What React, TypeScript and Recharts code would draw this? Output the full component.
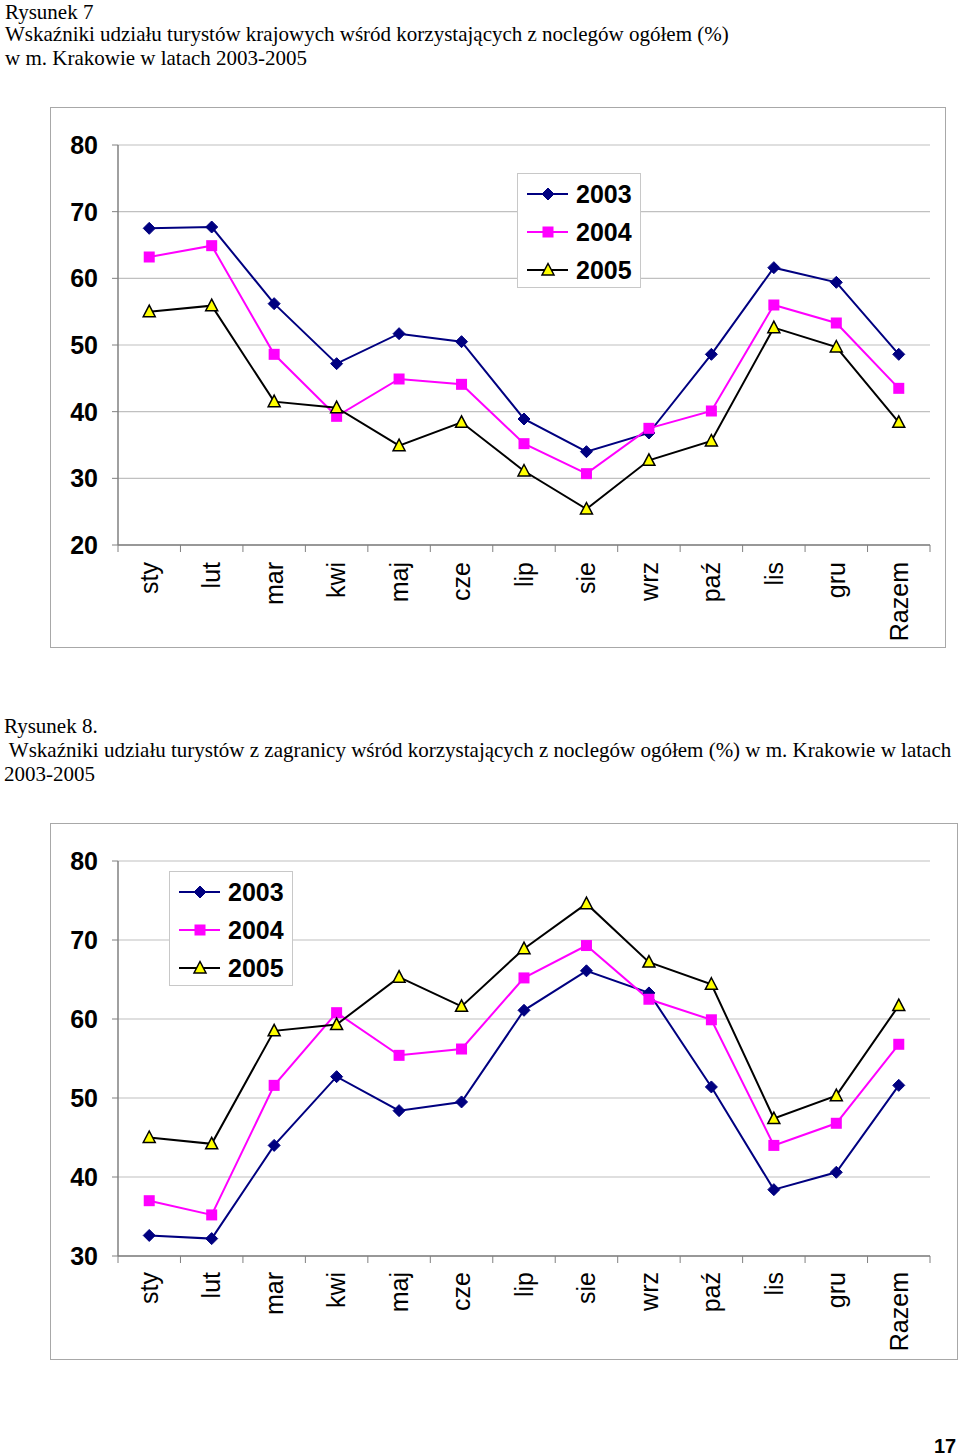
import React from "react";
import {
  LineChart,
  Line,
  XAxis,
  YAxis,
  CartesianGrid,
  Legend,
} from "recharts";

// ─── Data ────────────────────────────────────────────────
const CATS = ["sty", "lut", "mar", "kwi", "maj", "cze", "lip", "sie", "wrz", "paź", "lis", "gru", "Razem"];
const YEARS = ["2003", "2004", "2005"];

// Rysunek 7 – turyści krajowi
const KRAJ_2003 = [67.5, 67.7, 56.2, 47.2, 51.7, 50.5, 38.9, 34.0, 36.8, 48.6, 61.6, 59.4, 48.6];
const KRAJ_2004 = [63.2, 64.9, 48.6, 39.3, 44.9, 44.1, 35.2, 30.7, 37.5, 40.1, 56.0, 53.3, 43.5];
const KRAJ_2005 = [55.0, 55.9, 41.5, 40.6, 34.9, 38.4, 31.1, 25.4, 32.7, 35.6, 52.6, 49.7, 38.4];
const KRAJ_TICKS = [20, 30, 40, 50, 60, 70, 80];

// Rysunek 8 – turyści z zagranicy
const ZAGR_2003 = [32.6, 32.2, 44.0, 52.7, 48.4, 49.5, 61.1, 66.1, 63.3, 51.4, 38.4, 40.6, 51.6];
const ZAGR_2004 = [37.0, 35.2, 51.6, 60.8, 55.4, 56.2, 65.2, 69.3, 62.5, 59.9, 44.0, 46.8, 56.8];
const ZAGR_2005 = [45.0, 44.2, 58.5, 59.3, 65.3, 61.6, 68.9, 74.6, 67.2, 64.4, 47.4, 50.3, 61.7];
const ZAGR_TICKS = [30, 40, 50, 60, 70, 80];

function buildRows(a: number[], b: number[], c: number[]) {
  return CATS.map((m, i) => ({ m, y2003: a[i], y2004: b[i], y2005: c[i] }));
}

const SANS = "'Liberation Sans', Arial, sans-serif";
const SERIF = "'Liberation Serif', 'Times New Roman', serif";

const NAVY = "#000080";
const MAGENTA = "#FF00FF";
const BLACK = "#000000";

// ─── Markers ─────────────────────────────────────────────
function diamond(cx: number, cy: number, key?: React.Key) {
  return (
    <polygon
      key={key}
      points={`${cx},${cy - 6} ${cx + 6},${cy} ${cx},${cy + 6} ${cx - 6},${cy}`}
      fill={NAVY}
      stroke={NAVY}
    />
  );
}
function square(cx: number, cy: number, key?: React.Key) {
  return <rect key={key} x={cx - 5.5} y={cy - 5.5} width={11} height={11} fill={MAGENTA} />;
}
function triangle(cx: number, cy: number, key?: React.Key) {
  return (
    <polygon
      key={key}
      points={`${cx},${cy - 6.5} ${cx + 6},${cy + 5} ${cx - 6},${cy + 5}`}
      fill="#FFFF00"
      stroke={BLACK}
      strokeWidth={1.5}
    />
  );
}
const MARKERS = [diamond, square, triangle];
const COLORS = [NAVY, MAGENTA, BLACK];

// ─── Axis tick ───────────────────────────────────────────
// rotated label + Excel-style tick marks between categories
function CatTick(props: any) {
  const { x, y, payload, offset, width, visibleTicksCount, index } = props;
  const half = width / visibleTicksCount / 2;
  const last = index === visibleTicksCount - 1;
  return (
    <g>
      <line x1={x - half} x2={x - half} y1={y} y2={y + 7} stroke="#808080" />
      {last && <line x1={x + half} x2={x + half} y1={y} y2={y + 7} stroke="#808080" />}
      <text
        transform={`translate(${x},${y + offset}) rotate(-90)`}
        textAnchor="end"
        dy="0.35em"
        fontSize={25}
        fontFamily={SANS}
        fill="#000"
      >
        {payload.value}
      </text>
    </g>
  );
}

// ─── Legend ──────────────────────────────────────────────
function LegendBox() {
  return (
    <svg width={124} height={115} style={{ display: "block" }}>
      <rect x={0.5} y={0.5} width={123} height={114} fill="#fff" stroke="#c8c8c8" />
      {YEARS.map((yr, k) => {
        const cy = 21 + 38 * k;
        return (
          <g key={yr}>
            <line x1={10} x2={51} y1={cy} y2={cy} stroke={COLORS[k]} strokeWidth={2} />
            {MARKERS[k](31, cy)}
            <text x={59} y={cy} dy="0.36em" fontSize={25} fontWeight="bold" fontFamily={SANS} fill="#000">
              {yr}
            </text>
          </g>
        );
      })}
    </svg>
  );
}

// ─── Chart ───────────────────────────────────────────────
interface PanelProps {
  left: number;
  top: number;
  width: number;
  height: number;
  rows: ReturnType<typeof buildRows>;
  ticks: number[];
  margin: { top: number; right: number };
  axisHeight: number;
  labelOffset: number;
  legendPos: { left: number; top: number };
}

function Panel({ left, top, width, height, rows, ticks, margin, axisHeight, labelOffset, legendPos }: PanelProps) {
  const domain: [number, number] = [ticks[0], ticks[ticks.length - 1]];
  const keys = ["y2003", "y2004", "y2005"];
  return (
    <div
      style={{
        position: "absolute",
        left,
        top,
        width,
        height,
        border: "1px solid #a8a8a8",
        boxSizing: "border-box",
        background: "#fff",
      }}
    >
      <LineChart
        width={width - 2}
        height={height - 2}
        data={rows}
        margin={{ top: margin.top, right: margin.right, left: 0, bottom: 0 }}
      >
        <CartesianGrid vertical={false} stroke="#c0c0c0" strokeWidth={1.2} />
        <XAxis
          dataKey="m"
          scale="band"
          height={axisHeight}
          interval={0}
          tickLine={false}
          tickSize={0}
          tickMargin={0}
          axisLine={{ stroke: "#808080", strokeWidth: 1.5 }}
          tick={<CatTick offset={labelOffset} />}
        />
        <XAxis
          xAxisId="top"
          orientation="top"
          dataKey="m"
          height={0}
          tick={false}
          tickLine={false}
          axisLine={{ stroke: "#808080", strokeWidth: 1.5 }}
        />
        <YAxis
          domain={domain}
          ticks={ticks}
          width={67}
          interval={0}
          tickSize={6}
          tickMargin={14}
          tickLine={{ stroke: "#808080" }}
          axisLine={{ stroke: "#808080", strokeWidth: 1.5 }}
          tick={{ fontSize: 25, fontWeight: "bold", fill: "#000", fontFamily: SANS }}
        />
        <YAxis
          yAxisId="right"
          orientation="right"
          domain={domain}
          width={0}
          tick={false}
          tickLine={false}
          axisLine={{ stroke: "#808080", strokeWidth: 1.5 }}
        />
        <Legend
          layout="vertical"
          align="center"
          verticalAlign="middle"
          content={<LegendBox />}
          wrapperStyle={{ left: legendPos.left, top: legendPos.top, width: 124, height: 115 }}
        />
        {keys.map((k, idx) => (
          <Line
            key={k}
            dataKey={k}
            name={YEARS[idx]}
            stroke={COLORS[idx]}
            strokeWidth={2}
            isAnimationActive={false}
            activeDot={false}
            dot={(p: any) => MARKERS[idx](p.cx, p.cy, `${k}-${p.index}`)}
          />
        ))}
      </LineChart>
    </div>
  );
}

// ─── Page ────────────────────────────────────────────────
const TITLE_7 = [
  "Rysunek 7",
  "Wskaźniki udziału turystów krajowych wśród korzystających z noclegów ogółem (%)",
  "w m. Krakowie w latach 2003-2005",
];
const TITLE_8 = [
  "Rysunek 8.",
  " Wskaźniki udziału turystów z zagranicy wśród korzystających z noclegów ogółem (%) w m. Krakowie w latach",
  "2003-2005",
];

function TitleLines({ lines, left, top }: { lines: string[]; left: number; top: number }) {
  return (
    <>
      {lines.map((s, i) => (
        <div
          key={i}
          style={{
            position: "absolute",
            left,
            // keep the very first line inside the page
            top: Math.max(2, top + i * 24),
            fontFamily: SERIF,
            fontSize: 21,
            lineHeight: "20px",
            whiteSpace: "pre",
            color: "#000",
          }}
        >
          {s}
        </div>
      ))}
    </>
  );
}

export default function App() {
  return (
    <div style={{ position: "absolute", left: 0, top: 0, width: 960, height: 1456, background: "#fff", overflow: "hidden" }}>
      <TitleLines lines={TITLE_7} left={5} top={0} />
      <Panel
        left={50}
        top={107}
        width={896}
        height={541}
        rows={buildRows(KRAJ_2003, KRAJ_2004, KRAJ_2005)}
        ticks={KRAJ_TICKS}
        margin={{ top: 37, right: 15 }}
        axisHeight={102}
        labelOffset={17}
        legendPos={{ left: 466, top: 65 }}
      />
      <TitleLines lines={TITLE_8} left={4} top={716} />
      <Panel
        left={50}
        top={823}
        width={908}
        height={537}
        rows={buildRows(ZAGR_2003, ZAGR_2004, ZAGR_2005)}
        ticks={ZAGR_TICKS}
        margin={{ top: 37, right: 27 }}
        axisHeight={103}
        labelOffset={16}
        legendPos={{ left: 118, top: 47 }}
      />
      <div
        style={{
          position: "absolute",
          left: 934,
          top: 1436,
          fontFamily: SANS,
          fontWeight: "bold",
          fontSize: 20,
          lineHeight: "20px",
        }}
      >
        17
      </div>
    </div>
  );
}
